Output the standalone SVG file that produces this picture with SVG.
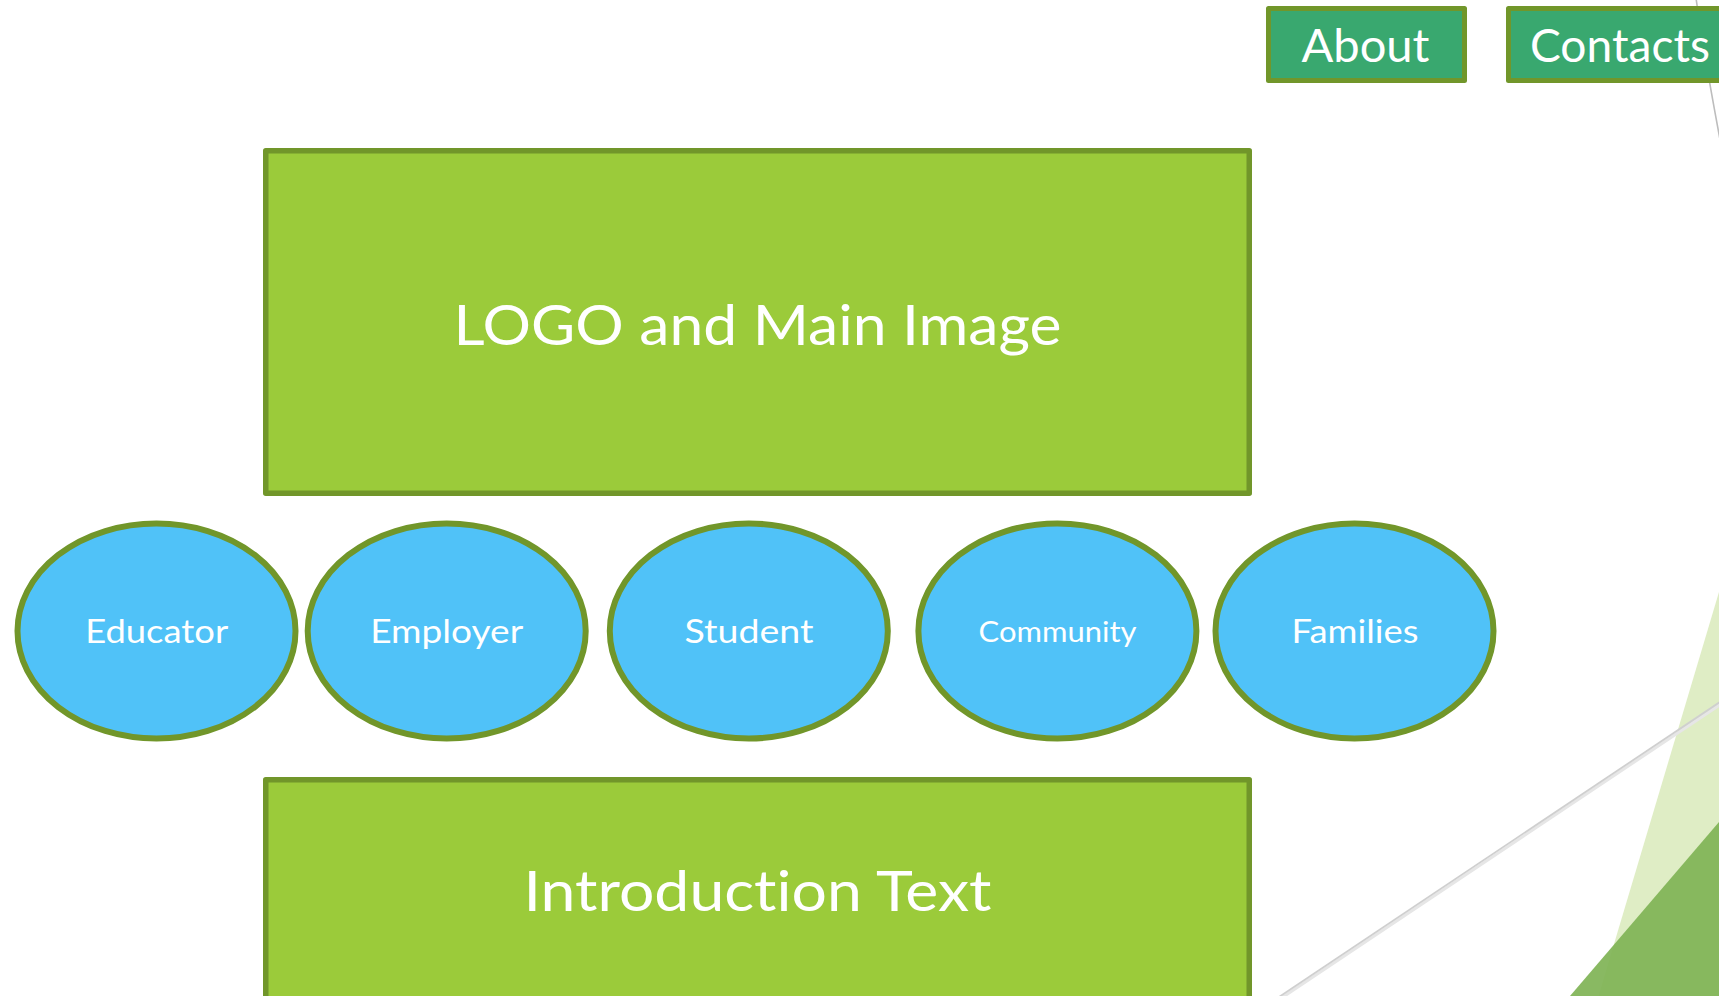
<svg xmlns="http://www.w3.org/2000/svg" width="1719" height="996" viewBox="0 0 1719 996">
  <style>
    .box { fill: #9BCB3A; stroke: #71962A; stroke-width: 5.5; stroke-linejoin: round; }
    .btn { fill: #39A86F; stroke: #71962A; stroke-width: 5; stroke-linejoin: round; }
    .oval { fill: #50C2F8; stroke: #71962A; stroke-width: 6; }
    .lbl { font-family: Lato, "Open Sans", "Liberation Sans", sans-serif; fill: #FFFFFF; text-anchor: middle; font-variant-ligatures: none; font-feature-settings: "liga" 0, "clig" 0; }
    .big { font-size: 57px; }
    .mid { font-size: 47px; }
    .sm { font-size: 33.5px; }
    .xs { font-size: 29.5px; }
  </style>
  <rect x="0" y="0" width="1719" height="996" fill="#FFFFFF"/>

  <g id="background">
    <polygon points="1598.5,996 1719,592 1719,996" fill="#DFEDC5"/>
    <polygon points="1570,996 1719,822 1719,996" fill="#80B456" fill-opacity="0.93"/>
    <line x1="1280" y1="999" x2="1721" y2="704" stroke="#E6E6E6" stroke-width="3"/>
    <line x1="1279" y1="997" x2="1720" y2="702" stroke="#CFCFCF" stroke-width="1.8"/>
    <path d="M1696,-2 Q1704,55 1722,150" fill="none" stroke="#BDBDBD" stroke-width="1.6"/>
  </g>

  <g id="connectors"></g>

  <g id="about">
    <rect class="btn" x="1268.5" y="8.5" width="196" height="72"/>
    <text class="lbl mid" x="1365.5" y="62" textLength="128" lengthAdjust="spacingAndGlyphs">About</text>
  </g>
  <g id="contacts">
    <rect class="btn" x="1508.5" y="8.5" width="300" height="72"/>
    <text class="lbl mid" x="1620" y="62" textLength="180" lengthAdjust="spacingAndGlyphs">Contacts</text>
  </g>

  <g id="logo-main-image">
    <rect class="box" x="265.75" y="150.75" width="983.5" height="342.5"/>
    <text class="lbl big" x="757.5" y="345" textLength="608" lengthAdjust="spacingAndGlyphs">LOGO and Main Image</text>
  </g>

  <g id="educator">
    <ellipse class="oval" cx="156.5" cy="631" rx="139" ry="107.5"/>
    <text class="lbl sm" x="156.7" y="643" textLength="143" lengthAdjust="spacingAndGlyphs">Educator</text>
  </g>
  <g id="employer">
    <ellipse class="oval" cx="446.7" cy="631" rx="139" ry="107.5"/>
    <text class="lbl sm" x="446.7" y="643" textLength="153" lengthAdjust="spacingAndGlyphs">Employer</text>
  </g>
  <g id="student">
    <ellipse class="oval" cx="748.8" cy="631" rx="139" ry="107.5"/>
    <text class="lbl sm" x="749" y="643" textLength="129" lengthAdjust="spacingAndGlyphs">Student</text>
  </g>
  <g id="community">
    <ellipse class="oval" cx="1057.4" cy="631" rx="139" ry="107.5"/>
    <text class="lbl xs" x="1057.5" y="642" textLength="158" lengthAdjust="spacingAndGlyphs">Community</text>
  </g>
  <g id="families">
    <ellipse class="oval" cx="1354.5" cy="631" rx="139" ry="107.5"/>
    <text class="lbl sm" x="1355" y="643" textLength="127" lengthAdjust="spacingAndGlyphs">Families</text>
  </g>

  <g id="introduction-text">
    <rect class="box" x="265.75" y="779.75" width="983.5" height="300"/>
    <text class="lbl big" x="757.5" y="911" textLength="468" lengthAdjust="spacingAndGlyphs">Introduction Text</text>
  </g>
</svg>
